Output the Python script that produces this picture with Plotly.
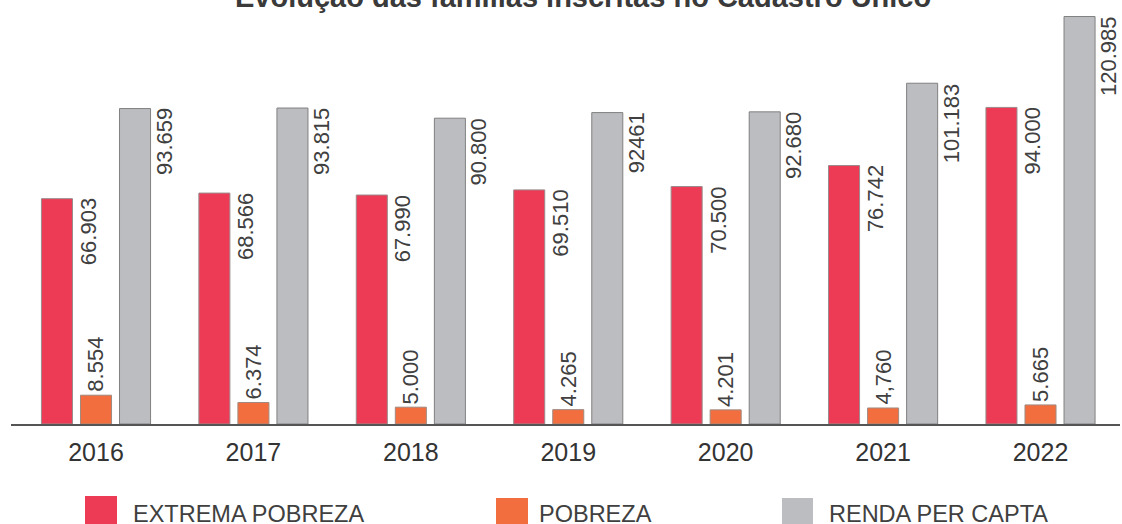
import plotly.graph_objects as go

# ---------------- data ----------------
years = ["2016", "2017", "2018", "2019", "2020", "2021", "2022"]
series_names = ["EXTREMA POBREZA", "POBREZA", "RENDA PER CAPTA"]
extrema_pobreza = [66.903, 68.566, 67.990, 69.510, 70.500, 76.742, 94.000]
pobreza = [8.554, 6.374, 5.000, 4.265, 4.201, 4.760, 5.665]
renda_per_capta = [93.659, 93.815, 90.800, 92.461, 92.680, 101.183, 120.985]
extrema_labels = ["66.903", "68.566", "67.990", "69.510", "70.500", "76.742", "94.000"]
pobreza_labels = ["8.554", "6.374", "5.000", "4.265", "4.201", "4,760", "5.665"]
renda_labels = ["93.659", "93.815", "90.800", "92461", "92.680", "101.183", "120.985"]
title_text = "Evolução das famílias inscritas no Cadastro Único"

# ---------------- style ----------------
W, H = 1122, 524
ML, MR, MT, MB = 11, 2, 3, 100
PW, PH = W - ML - MR, H - MT - MB
colors = ["#EE3B55", "#F36E3F", "#BCBDC1"]
edge = ["#9a8a8c", "#a08a80", "#808080"]
FONT = "Liberation Sans, Arial, sans-serif"
TXT = "#404040"

def px_x(px):
    return (px - ML) / PW

def px_y(py):
    return (H - MB - py) / PH

fig = go.Figure()
for name, vals, c, e in zip(series_names,
                            [extrema_pobreza, pobreza, renda_per_capta],
                            colors, edge):
    fig.add_trace(go.Bar(x=years, y=vals, name=name, marker=dict(color=c, line=dict(color=e, width=1)),
                         showlegend=False, hoverinfo="x+y+name"))

annotations = []
# value labels (x = category index on the category axis)
for i, yr in enumerate(years):
    annotations.append(dict(x=i, y=extrema_pobreza[i], xref="x", yref="y", text=extrema_labels[i],
                            textangle=-90, xanchor="center", yanchor="top", xshift=-8, yshift=2,
                            showarrow=False, font=dict(family=FONT, size=22, color=TXT)))
    annotations.append(dict(x=i, y=pobreza[i], xref="x", yref="y", text=pobreza_labels[i],
                            textangle=-90, xanchor="center", yanchor="bottom", xshift=0, yshift=1,
                            showarrow=False, font=dict(family=FONT, size=22, color=TXT)))
    annotations.append(dict(x=i, y=renda_per_capta[i], xref="x", yref="y", text=renda_labels[i],
                            textangle=-90, xanchor="center", yanchor="top", xshift=68, yshift=2,
                            showarrow=False, font=dict(family=FONT, size=22, color=TXT)))

# title (partially cut at the top, as in the reference)
annotations.append(dict(x=px_x(583), y=px_y(-3), xref="paper", yref="paper", text="<b>" + title_text + "</b>",
                        xanchor="center", yanchor="middle", showarrow=False,
                        font=dict(family=FONT, size=29, color="#3a3a3a")))

# custom legend
shapes = []
leg_sw = [(85, 117, 496), (496, 528, 498), (782, 813, 498)]
leg_tx = [131, 537, 827]
for (x0, x1, y0), tx, c, name in zip(leg_sw, leg_tx, colors, series_names):
    shapes.append(dict(type="rect", xref="paper", yref="paper", x0=px_x(x0), x1=px_x(x1),
                       y0=px_y(y0), y1=px_y(530), fillcolor=c, line=dict(width=0)))
    annotations.append(dict(x=px_x(tx), y=px_y(514), xref="paper", yref="paper", text=name,
                            xanchor="left", yanchor="middle", showarrow=False,
                            font=dict(family=FONT, size=23.5, color=TXT)))

fig.update_layout(
    width=W, height=H,
    margin=dict(l=ML, r=MR, t=MT, b=MB),
    paper_bgcolor="white", plot_bgcolor="white",
    barmode="group", bargap=0.256, bargroupgap=0.205,
    showlegend=False,
    annotations=annotations, shapes=shapes,
    xaxis=dict(type="category", range=[-0.54, 6.505], showgrid=False, zeroline=False,
               showline=True, linecolor="#555555", linewidth=1.5, ticks="",
               tickfont=dict(family=FONT, size=25, color="#333333"), ticklabelstandoff=5),
    yaxis=dict(range=[0, 125], visible=False, showgrid=False, zeroline=False),
)

fig.write_html("out.html", config={"displayModeBar": False},
               post_script="document.body.style.margin='0';document.body.style.overflow='hidden';")
